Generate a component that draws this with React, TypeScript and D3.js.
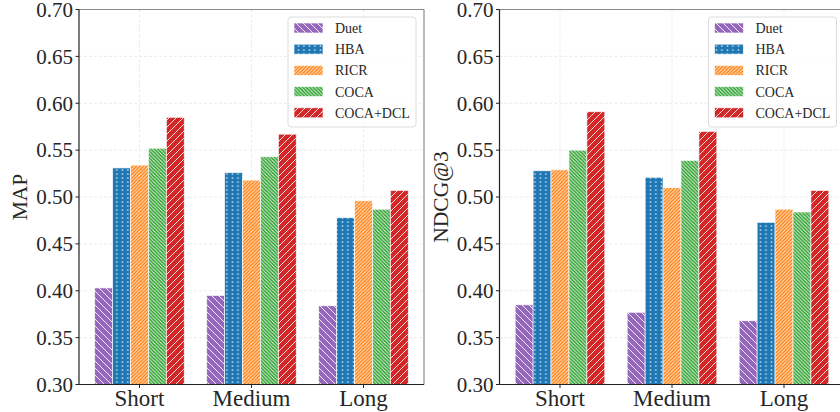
import React from "react";
import * as d3 from "d3";

const categories = ["Short", "Medium", "Long"];
const methods = ["Duet", "HBA", "RICR", "COCA", "COCA+DCL"];
const colors = ["#9467bd", "#1f77b4", "#ff7f0e", "#2ca02c", "#d62728"];
const hatches = ["bsSparse", "dots", "fsDense", "bsDense", "fsSparse"];

// values per method, ordered Short, Medium, Long
const mapDuet = [0.403, 0.395, 0.384];
const mapHBA = [0.531, 0.526, 0.478];
const mapRICR = [0.534, 0.518, 0.496];
const mapCOCA = [0.552, 0.543, 0.487];
const mapDCL = [0.585, 0.567, 0.507];

const ndcgDuet = [0.385, 0.377, 0.368];
const ndcgHBA = [0.528, 0.521, 0.473];
const ndcgRICR = [0.529, 0.510, 0.487];
const ndcgCOCA = [0.550, 0.539, 0.484];
const ndcgDCL = [0.591, 0.570, 0.507];

const yTicks = [0.3, 0.35, 0.4, 0.45, 0.5, 0.55, 0.6, 0.65, 0.7];

const FONT = "'Liberation Serif', 'Times New Roman', serif";
const TXT = "#262626";

const PLOT_W = 345;
const TOP = 9.5;
const BOTTOM = 384.5;

function Patterns() {
  const lw = 1;
  const stroke = "rgba(255,255,255,0.85)";
  const diag = (id: string, s: number, forward: boolean, color: string) => (
    <pattern id={id} patternUnits="userSpaceOnUse" width={s} height={s}>
      <rect width={s} height={s} fill={color} />
      {forward ? (
        <g stroke={stroke} strokeWidth={lw}>
          <line x1={0} y1={s} x2={s} y2={0} />
          <line x1={-s / 2} y1={s / 2} x2={s / 2} y2={-s / 2} />
          <line x1={s / 2} y1={s * 1.5} x2={s * 1.5} y2={s / 2} />
        </g>
      ) : (
        <g stroke={stroke} strokeWidth={lw}>
          <line x1={0} y1={0} x2={s} y2={s} />
          <line x1={-s / 2} y1={s / 2} x2={s / 2} y2={s * 1.5} />
          <line x1={s / 2} y1={-s / 2} x2={s * 1.5} y2={s / 2} />
        </g>
      )}
    </pattern>
  );
  return (
    <defs>
      {diag("bsSparse", 7, false, colors[0])}
      <pattern id="dots" patternUnits="userSpaceOnUse" width={5.5} height={8}>
        <rect width={5.5} height={8} fill={colors[1]} />
        <circle cx={1.4} cy={2} r={0.85} fill={stroke} />
        <circle cx={1.4} cy={6} r={0.85} fill={stroke} />
      </pattern>
      {diag("fsDense", 3.5, true, colors[2])}
      {diag("bsDense", 3.5, false, colors[3])}
      {diag("fsSparse", 7, true, colors[4])}
    </defs>
  );
}

function Panel({ x0, label, labelX, series }: { x0: number; label: string; labelX: number; series: number[][] }) {
  const x = d3.scaleLinear().domain([-0.54, 2.54]).range([x0, x0 + PLOT_W]);
  const y = d3.scaleLinear().domain([0.3, 0.7]).range([BOTTOM, TOP]);
  const bw = 0.16;
  const unit = x(1) - x(0);
  const legX = x0 + PLOT_W - 136;
  const legY = 17;
  return (
    <g>
      {/* grid */}
      {yTicks.map((t) => (
        <line key={"gy" + t} x1={x0} x2={x0 + PLOT_W} y1={y(t)} y2={y(t)} stroke="#e6e6e6" strokeWidth={0.8} strokeDasharray="3,2" />
      ))}
      {categories.map((c, i) => (
        <line key={"gx" + c} x1={x(i)} x2={x(i)} y1={TOP} y2={BOTTOM} stroke="#e6e6e6" strokeWidth={0.8} strokeDasharray="3,2" />
      ))}
      {/* bars */}
      {series.map((vals, j) =>
        vals.map((v, i) => {
          const bx = x(i + (j - 2) * bw - bw / 2);
          return (
            <rect
              key={j + "-" + i}
              x={bx}
              y={y(v)}
              width={bw * unit}
              height={y(0.3) - y(v)}
              fill={`url(#${hatches[j]})`}
              stroke="rgba(255,255,255,0.8)"
              strokeWidth={0.8}
            />
          );
        })
      )}
      {/* spines */}
      <line x1={x0} x2={x0 + PLOT_W} y1={TOP} y2={TOP} stroke="#8a8a8a" strokeWidth={1.2} />
      <line x1={x0 + PLOT_W} x2={x0 + PLOT_W} y1={TOP} y2={BOTTOM} stroke="#8a8a8a" strokeWidth={1.2} />
      <line x1={x0} x2={x0} y1={TOP} y2={BOTTOM} stroke="#222" strokeWidth={1.2} />
      <line x1={x0} x2={x0 + PLOT_W} y1={BOTTOM} y2={BOTTOM} stroke="#222" strokeWidth={1.2} />
      {/* y ticks */}
      {yTicks.map((t) => (
        <g key={"ty" + t}>
          <line x1={x0 - 3.5} x2={x0} y1={y(t)} y2={y(t)} stroke="#222" strokeWidth={1} />
          <text x={x0 - 6} y={y(t)} dy="0.35em" textAnchor="end" fontFamily={FONT} fontSize={21} fill={TXT}>
            {t.toFixed(2)}
          </text>
        </g>
      ))}
      {/* x ticks */}
      {categories.map((c, i) => (
        <g key={"tx" + c}>
          <line x1={x(i)} x2={x(i)} y1={BOTTOM} y2={BOTTOM + 3.5} stroke="#222" strokeWidth={1} />
          <text x={x(i)} y={BOTTOM + 21.5} textAnchor="middle" fontFamily={FONT} fontSize={23} fill={TXT}>
            {c}
          </text>
        </g>
      ))}
      {/* y label */}
      <text
        transform={`translate(${labelX},${(TOP + BOTTOM) / 2}) rotate(-90)`}
        textAnchor="middle"
        dy="0.35em"
        fontFamily={FONT}
        fontSize={21.5}
        fill={TXT}
      >
        {label}
      </text>
      {/* legend */}
      <rect x={legX} y={legY} width={128} height={110} rx={3} fill="rgba(255,255,255,0.8)" stroke="#dcdcdc" strokeWidth={1} />
      {methods.map((m, j) => {
        const cy = legY + 11 + j * 21.2;
        return (
          <g key={"lg" + m}>
            <rect x={legX + 6} y={cy - 5} width={29} height={10} fill={`url(#${hatches[j]})`} stroke="rgba(255,255,255,0.8)" strokeWidth={0.8} />
            <text x={legX + 47} y={cy} dy="0.35em" fontFamily={FONT} fontSize={14} fill={TXT}>
              {m}
            </text>
          </g>
        );
      })}
    </g>
  );
}

export default function App() {
  const mapSeries = [mapDuet, mapHBA, mapRICR, mapCOCA, mapDCL];
  const ndcgSeries = [ndcgDuet, ndcgHBA, ndcgRICR, ndcgCOCA, ndcgDCL];
  return (
    <svg width={840} height={412} style={{ position: "absolute", left: 0, top: 0, background: "#fff" }}>
      <Patterns />
      <rect width={840} height={412} fill="#fff" />
      <Panel x0={79} label="MAP" labelX={19.5} series={mapSeries} />
      <Panel x0={499.5} label="NDCG@3" labelX={440} series={ndcgSeries} />
    </svg>
  );
}
